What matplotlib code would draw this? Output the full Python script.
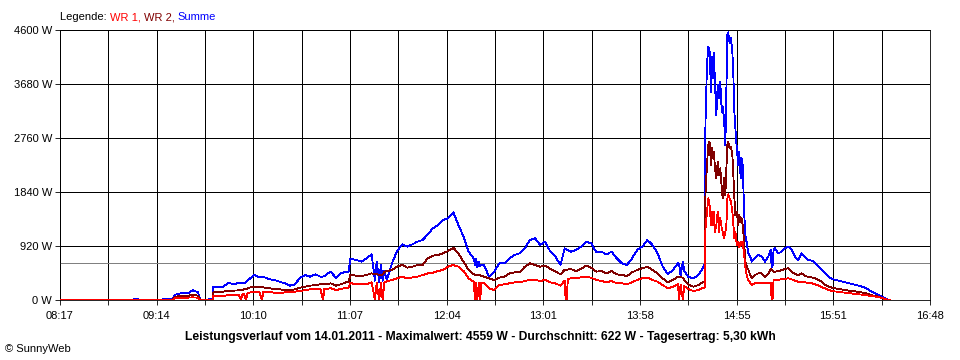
import numpy as np
import matplotlib
matplotlib.use('Agg')
import matplotlib.pyplot as plt

plt.rcParams['font.family'] = ['Liberation Sans', 'DejaVu Sans']
plt.rcParams['font.size'] = 8

# Zeit in Minuten nach 08:17
minutes = [
    0, 42, 44, 46, 47, 58, 60, 66, 67.5, 69,
    72, 75, 78, 81, 82.5, 87, 89.5, 90, 93, 96,
    99, 102, 105, 106.3, 107, 108, 109.3, 110, 111, 114,
    117, 118.7, 119.4, 123, 126, 129, 132, 135, 138, 141,
    144, 147, 150, 153, 154.5, 155.3, 159, 162, 165, 168,
    169.5, 170.5, 174, 177, 180, 183, 185, 186, 187.5, 188.5,
    189.5, 190.5, 192, 195, 198, 201, 204, 207, 210, 213,
    216, 219, 222, 225, 228, 231, 234, 237, 240, 243,
    243.8, 244.5, 245.1, 246, 246.8, 247.5, 249, 252, 255, 258,
    261, 264, 267, 270, 273, 276, 279, 282, 285, 288,
    291, 294, 296.4, 297, 297.6, 298.3, 300, 303, 306, 309,
    312, 315, 318, 321, 324, 327, 330, 333, 336, 339,
    342, 345, 348, 351, 354, 357, 360, 363, 363.6, 364.5,
    365.9, 366.6, 369, 372, 375, 378, 378.6, 379.1, 380.0, 380.8,
    381.5, 382.4, 383.0, 383.6, 384.1, 384.7, 385.5, 386.3, 387.1, 387.8,
    388.7, 389.2, 390.0, 390.8, 391.4, 392.0, 392.5, 393.3, 394.1, 394.9,
    395.5, 396.1, 396.7, 397.5, 398.4, 399.0, 399.8, 400.4, 401.0, 401.8,
    402.6, 403.5, 404.3, 405.3, 406.3, 408.2, 410.2, 412.2, 414.1, 416.0,
    417.4, 418.0, 418.5, 419.1, 420.0, 421.9, 423.9, 425.8, 427.8, 429.8,
    431.7, 433.7, 435.6, 437.6, 439.5, 441.5, 443.5, 445.4, 447.4, 449.3,
    451.3, 454.2, 458.1, 462.1, 466.0, 469.9, 473.8, 476.8, 479.7, 482.6,
    485.6, 487.5,
]

summe = [
    0, 0, 15, 15, 0, 0, 10, 20, 90, 100,
    120, 110, 170, 130, 5, 10, 10, 220, 227, 227,
    295, 267, 295, 290, 290, 284, 300, 330, 352, 426,
    386, 390, 395, 352, 340, 312, 284, 244, 267, 380,
    426, 397, 438, 397, 400, 410, 483, 380, 454, 480,
    483, 700, 682, 653, 710, 778, 330, 650, 310, 600,
    330, 500, 341, 625, 835, 949, 909, 949, 994, 1022,
    1119, 1221, 1278, 1363, 1392, 1494, 1278, 1079, 823, 710,
    600, 700, 560, 650, 580, 600, 596, 397, 483, 625,
    625, 710, 767, 795, 880, 1022, 1051, 937, 994, 823,
    738, 596, 880, 870, 860, 850, 823, 852, 909, 994,
    966, 812, 823, 778, 823, 710, 625, 596, 710, 852,
    909, 1022, 937, 795, 568, 438, 511, 625, 620, 420,
    650, 500, 397, 369, 426, 568, 620, 3000, 4004, 4316,
    4260, 3549, 4146, 3777, 4203, 3692, 3152, 3663, 3436, 3720,
    3208, 3300, 3096, 2641, 3607, 4516, 4559, 4373, 4459, 4231,
    3834, 3208, 2925, 2584, 2300, 2527, 2073, 2414, 2300, 1505,
    1100, 950, 800, 750, 653, 710, 767, 738, 653, 740,
    852, 570, 568, 850, 880, 795, 823, 880, 909, 852,
    738, 682, 795, 738, 682, 670, 636, 568, 511, 454,
    397, 352, 324, 295, 267, 239, 199, 142, 102, 57,
    12, 0,
]

wr2 = [
    0, 0, 0, 0, 0, 0, 0, 0, 50, 60,
    70, 70, 90, 75, 0, 0, 0, 130, 131, 142,
    159, 159, 165, 165, 170, 182, 185, 195, 210, 227,
    227, 220, 215, 199, 187, 182, 170, 165, 182, 210,
    227, 244, 256, 267, 267, 267, 284, 244, 267, 300,
    300, 426, 415, 409, 426, 454, 440, 440, 430, 430,
    430, 480, 494, 511, 568, 596, 551, 568, 596, 596,
    710, 755, 767, 795, 835, 891, 795, 653, 511, 438,
    430, 430, 426, 426, 420, 410, 397, 369, 341, 380,
    397, 454, 471, 471, 568, 625, 596, 568, 585, 528,
    483, 438, 515, 511, 515, 520, 528, 494, 528, 585,
    551, 483, 494, 454, 494, 438, 426, 409, 471, 511,
    540, 568, 511, 454, 369, 301, 341, 397, 397, 390,
    380, 340, 267, 227, 256, 312, 300, 1800, 2300, 2641,
    2698, 2300, 2584, 2414, 2527, 2243, 2073, 2357, 2130, 2243,
    1903, 1733, 2073, 1789, 2243, 2641, 2700, 2584, 2612, 2471,
    2130, 1733, 1448, 1505, 1278, 1448, 1335, 1392, 1278, 994,
    650, 560, 520, 430, 370, 426, 454, 454, 397, 450,
    523, 523, 500, 483, 483, 490, 511, 530, 540, 483,
    443, 426, 454, 409, 395, 386, 369, 340, 312, 256,
    230, 205, 185, 165, 150, 135, 110, 80, 68, 35,
    0, 0,
]

wr1 = [
    0, 0, 0, 0, 0, 0, 0, 0, 30, 30,
    40, 40, 45, 40, 0, 0, 0, 65, 68, 68,
    85, 85, 90, 0, 95, 102, 0, 115, 125, 142,
    142, 0, 142, 136, 125, 113, 131, 131, 142, 153,
    170, 182, 182, 187, 0, 187, 199, 170, 187, 210,
    210, 290, 267, 267, 267, 301, 0, 290, 0, 290,
    0, 300, 320, 341, 369, 397, 369, 386, 397, 426,
    454, 466, 494, 511, 568, 596, 568, 494, 369, 312,
    0, 300, 0, 290, 0, 290, 284, 199, 170, 256,
    267, 284, 301, 301, 324, 341, 341, 324, 341, 301,
    284, 244, 330, 0, 0, 360, 369, 369, 386, 397,
    380, 341, 324, 301, 324, 284, 284, 267, 301, 341,
    369, 380, 341, 312, 256, 199, 227, 267, 0, 260,
    0, 240, 187, 153, 170, 210, 200, 1200, 1505, 1733,
    1619, 1278, 1505, 1278, 1505, 1164, 1278, 1505, 1164, 1392,
    1221, 1164, 1051, 1164, 1278, 1733, 1800, 1733, 1675, 1505,
    1278, 1051, 1164, 937, 994, 900, 994, 937, 994, 767,
    550, 400, 340, 300, 256, 284, 290, 290, 284, 290,
    295, 0, 0, 341, 341, 345, 352, 360, 369, 350,
    329, 312, 315, 300, 290, 284, 265, 250, 220, 199,
    170, 150, 135, 122, 110, 95, 80, 65, 57, 35,
    10, 0,
]

x_labels = ['08:17', '09:14', '10:10', '11:07', '12:04',
            '13:01', '13:58', '14:55', '15:51', '16:48']
span = 511          # 08:17 .. 16:48
y_ticks = [0, 920, 1840, 2760, 3680, 4600]
average = 622
title = ('Leistungsverlauf vom 14.01.2011 - Maximalwert: 4559 W - '
         'Durchschnitt: 622 W - Tagesertrag: 5,30 kWh')

fig = plt.figure(figsize=(9.6, 3.6), dpi=100)
ax = fig.add_axes([60 / 960, 60 / 360, 870 / 960, 270 / 360])

t = np.array(minutes)
thin = 0.6
ax.axhline(average, color='#808080', lw=thin, zorder=1.5, antialiased=False)
ax.plot(t, summe, color='#0000ff', lw=thin, zorder=2, antialiased=False)
ax.plot(t, wr2, color='#800000', lw=thin, zorder=3, antialiased=False)
ax.plot(t, wr1, color='#ff0000', lw=thin, zorder=4, antialiased=False)

ax.set_xlim(0, span)
ax.set_ylim(0, 4600)
grid_x = np.linspace(0, span, 19)
ax.set_xticks(grid_x)
ax.set_xticklabels([x_labels[i // 2] if i % 2 == 0 else '' for i in range(19)])
ax.set_yticks(y_ticks)
ax.set_yticklabels([f'{v} W' for v in y_ticks])
ax.grid(True, color='black', lw=thin, antialiased=False)
ax.set_axisbelow(True)
for s in ax.spines.values():
    s.set_linewidth(thin)
    s.set_color('black')
ax.tick_params(direction='out', length=3.6, width=thin, colors='black', labelsize=8)
ax.tick_params(axis='y', pad=2)
ax.tick_params(axis='x', pad=4)

fig.text(0.5, 1 - 337 / 360, title, ha='center', va='center',
         fontsize=8.75, fontweight='bold')
fig.text(5 / 960, 1 - 349 / 360, '© SunnyWeb', ha='left', va='center', fontsize=8)

# Legende in mehreren Farben
fig.canvas.draw()
r = fig.canvas.get_renderer()
xpos = 60 / 960
for txt, col in [('Legende: ', 'black'), ('WR 1, ', '#ff0000'),
                 ('WR 2, ', '#800000'), ('Summe', '#0000ff')]:
    tt = fig.text(xpos, 1 - 17 / 360, txt, color=col, ha='left', va='center', fontsize=8)
    xpos += tt.get_window_extent(r).width / fig.bbox.width

fig.savefig('out.png', dpi=100)
